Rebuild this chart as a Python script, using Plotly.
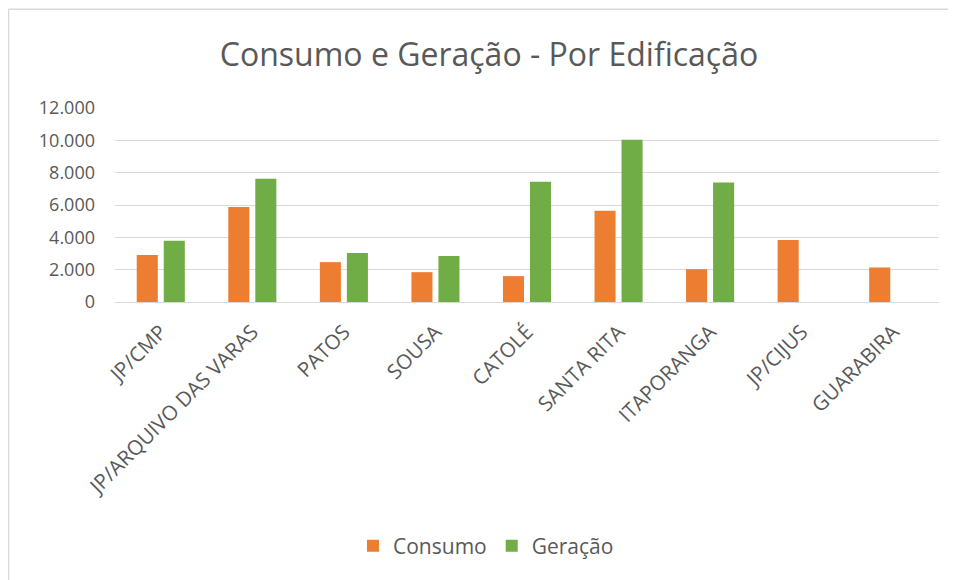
import plotly.graph_objects as go

categories = ["JP/CMP", "JP/ARQUIVO DAS VARAS", "PATOS", "SOUSA", "CATOLÉ",
              "SANTA RITA", "ITAPORANGA", "JP/CIJUS", "GUARABIRA"]
consumo = [2900, 5880, 2465, 1845, 1600, 5650, 2030, 3830, 2135]
geracao = [3790, 7620, 3025, 2840, 7435, 10040, 7390, None, None]
y_ticks = [0, 2000, 4000, 6000, 8000, 10000, 12000]

FONT = "Open Sans"
TXT = "#595959"

fig = go.Figure()
fig.add_trace(go.Bar(name="Consumo", x=categories, y=consumo,
                     marker=dict(color="#ED7D31", line=dict(width=0))))
fig.add_trace(go.Bar(name="Geração", x=categories, y=geracao,
                     marker=dict(color="#70AD47", line=dict(width=0))))

# page body has an 8px margin; figure is sized to fit the window
OFF = 8
W, H = 956 - OFF, 580 - OFF
L, R, T = 115 - OFF, 956 - 939, 108 - OFF
B = H - (302 - OFF)
pw = W - L - R
ph = H - T - B

def px_x(x):  # x in window pixels
    return (x - OFF - L) / pw

def px_y(y):  # y in window pixels
    return (H - B - (y - OFF)) / ph

fig.update_layout(
    width=W, height=H,
    margin=dict(l=L, r=R, t=T, b=B, pad=0),
    paper_bgcolor="white", plot_bgcolor="white",
    separators=",.",
    barmode="group", bargap=0.41, bargroupgap=0.22,
    font=dict(family=FONT, color=TXT),
    title=dict(text="Consumo e Geração - Por Edificação",
               x=(489 - OFF) / W, xanchor="center",
               y=1 - (55 - OFF) / H, yanchor="middle",
               font=dict(family=FONT, size=32, color=TXT)),
    showlegend=True,
    legend=dict(orientation="h", x=px_x(486), xanchor="center",
                y=px_y(546), yanchor="middle",
                font=dict(family=FONT, size=21, color=TXT),
                itemwidth=30, traceorder="normal"),
    xaxis=dict(tickangle=-45, tickfont=dict(family=FONT, size=20.5, color=TXT),
               showgrid=False, showline=False, ticks="", ticklabelstandoff=13),
    yaxis=dict(range=[0, 12000], tickvals=y_ticks, tickformat=",d",
               tickfont=dict(family=FONT, size=18, color=TXT),
               showgrid=True, gridcolor="#D9D9D9", gridwidth=1.3,
               zeroline=True, zerolinecolor="#D9D9D9", zerolinewidth=1.3,
               showline=False, ticks="", ticklabelstandoff=19),
)

# chart border (light grey frame)
for shp in [
    dict(x0=px_x(8.5), x1=px_x(8.5), y0=px_y(9.3), y1=px_y(600)),
    dict(x0=px_x(8.5), x1=px_x(980), y0=px_y(9.3), y1=px_y(9.3)),
]:
    fig.add_shape(type="line", xref="paper", yref="paper",
                  line=dict(color="#D9D9D9", width=1.5), **shp)

fig.write_html("out.html")
